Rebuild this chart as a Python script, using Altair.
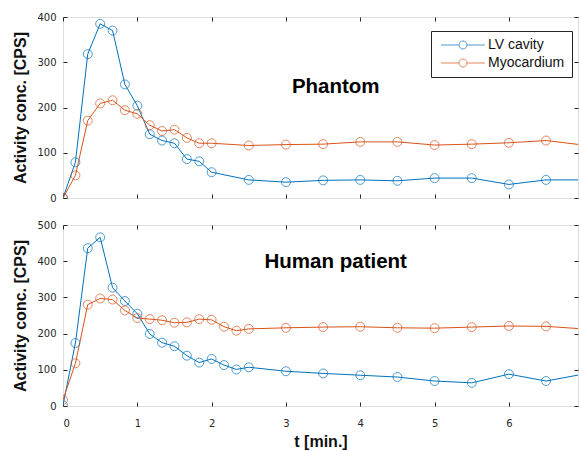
import altair as alt
import pandas as pd

# ---- data ----
t_phantom = [0, 0.167, 0.333, 0.5, 0.667, 0.833, 1.0, 1.167, 1.333, 1.5, 1.667, 1.833, 2.0,
             2.5, 3.0, 3.5, 4.0, 4.5, 5.0, 5.5, 6.0, 6.5, 7.0]
lv_phantom = [0, 79, 318, 385, 370, 251, 204, 141, 127, 121, 86, 81, 57,
              40, 35, 39, 40, 38, 44, 44, 30, 40, 40]
myo_phantom = [0, 50, 171, 209, 216, 194, 186, 161, 148, 151, 133, 121, 121,
               116, 118, 119, 124, 124, 117, 119, 122, 127, 117]

t_patient = [0, 0.167, 0.333, 0.5, 0.667, 0.833, 1.0, 1.167, 1.333, 1.5, 1.667, 1.833, 2.0,
             2.167, 2.333, 2.5, 3.0, 3.5, 4.0, 4.5, 5.0, 5.5, 6.0, 6.5, 7.0]
lv_patient = [2, 174, 436, 466, 327, 290, 255, 199, 175, 165, 139, 120, 130,
              113, 101, 107, 96, 90, 85, 80, 69, 64, 88, 69, 88]
myo_patient = [17, 118, 280, 297, 294, 264, 243, 240, 237, 230, 231, 240, 238,
               219, 208, 213, 216, 218, 219, 216, 215, 218, 221, 220, 213]

series = ["LV cavity", "Myocardium"]
colors = ["#0072BD", "#D95319"]
x_ticks = [0, 1, 2, 3, 4, 5, 6]
y_ticks_phantom = [0, 100, 200, 300, 400]
y_ticks_patient = [0, 100, 200, 300, 400, 500]
panel_labels = ["Phantom", "Human patient"]
label_t = [3.67, 3.67]
label_v = [245, 397]

LEG_PATH = "M-1,0A1,1 0 1,0 1,0A1,1 0 1,0 -1,0M-5.5,0L-1,0M1,0L5.5,0"
INK = "#262626"
TITLE_STYLE = dict(titleFont="Liberation Sans", titleFontSize=16, titleFontWeight="bold",
                   titleColor="#111111")
LABEL_STYLE = dict(labelFont="DejaVu Sans", labelFontSize=10, labelColor=INK, tickColor=INK)


def long_df(t, lv, myo):
    rows = []
    for s, vals in zip(series, [lv, myo]):
        for ti, v in zip(t, vals):
            rows.append({"t": ti, "v": v, "series": s})
    return pd.DataFrame(rows)


def panel(df, ymax, yticks, label, lt, lv_, show_legend, bottom):
    xs = alt.Scale(domain=[0, 6.93], nice=False, zero=False)
    ys = alt.Scale(domain=[0, ymax], nice=False)
    if show_legend:
        leg = alt.Legend(
            title=None, orient="none", legendX=368, legendY=14,
            symbolType=LEG_PATH, symbolSize=64, symbolStrokeWidth=1,
            symbolFillColor="transparent", symbolOffset=18, labelOffset=18,
            labelFont="Liberation Sans", labelFontSize=14, labelColor="#111111",
            fillColor="white", strokeColor=INK, padding=7, rowPadding=4,
        )
    else:
        leg = None
    color = alt.Color("series:N", scale=alt.Scale(domain=series, range=colors), legend=leg)

    base = alt.Chart(df)
    line = base.mark_line(strokeWidth=1, clip=True).encode(
        x=alt.X("t:Q", scale=xs,
                axis=alt.Axis(values=x_ticks, offset=-4, tickSize=4, labelPadding=12,
                              labels=bottom, title="t [min.]" if bottom else None,
                              titlePadding=5, domain=False, grid=False, format="d",
                              **TITLE_STYLE, **LABEL_STYLE)),
        y=alt.Y("v:Q", scale=ys,
                axis=alt.Axis(values=yticks, offset=-4, tickSize=4, labelPadding=7,
                              title="Activity conc. [CPS]", titlePadding=8,
                              domain=False, grid=False, **TITLE_STYLE, **LABEL_STYLE)),
        color=color,
    )
    pts = base.mark_point(shape="circle", filled=False, size=80, strokeWidth=1, clip=True).encode(
        x=alt.X("t:Q", scale=xs,
                axis=alt.Axis(orient="top", values=x_ticks, offset=-4, tickSize=4,
                              labels=False, title=None, domain=False, grid=False, tickColor=INK)),
        y=alt.Y("v:Q", scale=ys,
                axis=alt.Axis(orient="right", values=yticks, offset=-4, tickSize=4,
                              labels=False, title=None, domain=False, grid=False, tickColor=INK)),
        color=color,
    )
    txt_df = pd.DataFrame({"t": [lt], "v": [lv_], "label": [label]})
    txt = alt.Chart(txt_df).mark_text(
        font="Liberation Sans", fontSize=20.5, fontWeight="bold", color="black",
        align="center", baseline="middle",
    ).encode(
        x=alt.X("t:Q", scale=xs, axis=None),
        y=alt.Y("v:Q", scale=ys, axis=None),
        text="label:N",
    )
    return alt.layer(line, pts, txt).resolve_axis(x="independent", y="independent").properties(
        width=515, height=181
    )


top = panel(long_df(t_phantom, lv_phantom, myo_phantom), 400, y_ticks_phantom,
            panel_labels[0], label_t[0], label_v[0], True, False)
bot = panel(long_df(t_patient, lv_patient, myo_patient), 500, y_ticks_patient,
            panel_labels[1], label_t[1], label_v[1], False, True)

chart = alt.vconcat(top, bot, spacing=15).resolve_scale(color="independent").properties(
    padding={"left": 12, "top": 11, "right": 0, "bottom": 0}
).configure_view(
    stroke=INK, strokeWidth=1
).configure(background="white")

chart.save("out.html", embed_options={"renderer": "svg", "actions": False})
